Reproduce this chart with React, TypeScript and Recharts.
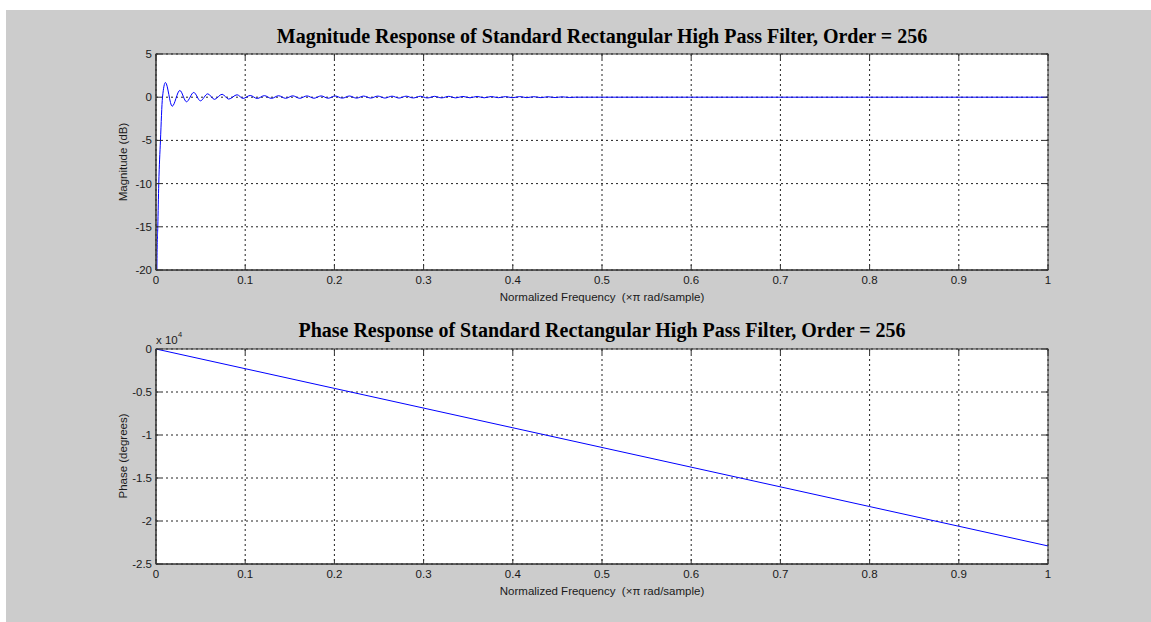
import React from "react";
import { LineChart, Line, XAxis, YAxis, CartesianGrid } from "recharts";

// tick values
const freqTicks = [0, 0.1, 0.2, 0.3, 0.4, 0.5, 0.6, 0.7, 0.8, 0.9, 1];
const magTicks = [-20, -15, -10, -5, 0, 5];
const phaseTicks = [-2.5, -2, -1.5, -1, -0.5, 0];

// magnitude response (dB)
const magFreq = [
  0, 0.0012, 0.002, 0.0031, 0.005, 0.0073, 0.0106, 0.0181, 0.0267, 0.0342,
  0.0423, 0.0498, 0.058, 0.0655, 0.0741, 0.0815, 0.0909, 0.0976,
  0.1056, 0.1135, 0.1215, 0.1294, 0.1374, 0.1453, 0.1533, 0.1612, 0.1692, 0.1771,
  0.1851, 0.193, 0.201, 0.2089, 0.2169, 0.2248, 0.2328, 0.2407, 0.2487, 0.2566,
  0.2646, 0.2725, 0.2805, 0.2884, 0.2964, 0.3043, 0.3123, 0.3202, 0.3282, 0.3361,
  0.3441, 0.352, 0.36, 0.3679, 0.3759, 0.3838, 0.3918, 0.3997, 0.4077, 0.4156,
  0.4236, 0.4315, 0.4395, 0.4474, 0.4554, 0.4633, 0.47, 1,
];
const magDb = [
  -45, -18, -15, -10, -5, 0, 1.7, -1.05, 0.78, -0.53,
  0.55, -0.42, 0.39, -0.25, 0.34, -0.22, 0.28, -0.14,
  0.2, -0.15, 0.18, -0.14, 0.17, -0.13, 0.16, -0.13, 0.15, -0.12,
  0.15, -0.12, 0.14, -0.11, 0.14, -0.11, 0.13, -0.1, 0.13, -0.1,
  0.12, -0.1, 0.12, -0.09, 0.11, -0.09, 0.1, -0.08, 0.1, -0.08,
  0.09, -0.07, 0.09, -0.07, 0.08, -0.06, 0.07, -0.06, 0.07, -0.05,
  0.06, -0.05, 0.05, -0.04, 0.04, -0.03, 0, 0,
];

// phase response (degrees x 10^4)
const phaseFreq = [0, 0.2, 0.4, 0.6, 0.8, 1];
const phaseDeg = [0, -0.458, -0.916, -1.374, -1.832, -2.29];

const magData = magFreq.map((f, i) => ({ f, v: magDb[i] }));
const phaseData = phaseFreq.map((f, i) => ({ f, v: phaseDeg[i] }));

const AXIS = "#333";
const TEXT = "#1a1a1a";
const SANS = "'Liberation Sans', Arial, sans-serif";
const SERIF = "'Liberation Serif', 'Times New Roman', serif";
const FS = 11.5;
const PLOT_W = 892;

// MATLAB-style inward ticks on bottom + top edge
function BottomTick({ x, y, payload, plotH }: any) {
  return (
    <g>
      <line x1={x} x2={x} y1={y} y2={y - 5} stroke={AXIS} />
      <line x1={x} x2={x} y1={y - plotH} y2={y - plotH + 5} stroke={AXIS} />
      <text x={x} y={y + 14} textAnchor="middle" fontSize={FS} fontFamily={SANS} fill={TEXT}>
        {String(payload.value)}
      </text>
    </g>
  );
}

// inward ticks on left + right edge
function LeftTick({ x, y, payload }: any) {
  return (
    <g>
      <line x1={x} x2={x + 5} y1={y} y2={y} stroke={AXIS} />
      <line x1={x + PLOT_W} x2={x + PLOT_W - 5} y1={y} y2={y} stroke={AXIS} />
      <text x={x - 4} y={y + 4} textAnchor="end" fontSize={FS} fontFamily={SANS} fill={TEXT}>
        {String(payload.value)}
      </text>
    </g>
  );
}

function Panel({ data, yTicks, yDomain, top, bottom }: any) {
  const plotH = 300 - top - bottom - 30;
  return (
    <LineChart
      width={1151}
      height={300}
      data={data}
      margin={{ top, right: 103, bottom, left: 106 }}
    >
      <CartesianGrid stroke="#222" strokeDasharray="2 3" fill="#fff" />
      <XAxis
        dataKey="f"
        type="number"
        domain={[0, 1]}
        ticks={freqTicks}
        interval={0}
        tickSize={0}
        tickMargin={0}
        tick={<BottomTick plotH={plotH} />}
        stroke={AXIS}
        height={30}
        allowDataOverflow
      />
      <YAxis
        type="number"
        domain={yDomain}
        ticks={yTicks}
        interval={0}
        tickSize={0}
        tickMargin={0}
        tick={<LeftTick />}
        stroke={AXIS}
        width={50}
        allowDataOverflow
      />
      <Line
        type="monotone"
        dataKey="v"
        stroke="#0000ff"
        strokeWidth={1}
        dot={false}
        isAnimationActive={false}
      />
    </LineChart>
  );
}

export default function App() {
  return (
    <div style={{ position: "absolute", left: 0, top: 0, width: 1151, height: 622, background: "#fff" }}>
      <div style={{ position: "absolute", left: 6, top: 10, width: 1145, height: 612, background: "#cccccc" }} />
      <div style={{ position: "absolute", left: 0, top: 0 }}>
        <Panel data={magData} yTicks={magTicks} yDomain={[-20, 5]} top={54} bottom={0} />
      </div>
      <div style={{ position: "absolute", left: 0, top: 300 }}>
        <Panel data={phaseData} yTicks={phaseTicks} yDomain={[-2.5, 0]} top={49} bottom={6} />
      </div>
      <svg
        width={1151}
        height={622}
        style={{ position: "absolute", left: 0, top: 0, pointerEvents: "none" }}
      >
        {/* plot box edges (top and right) */}
        <rect x={156} y={54} width={PLOT_W} height={216} fill="none" stroke={AXIS} />
        <rect x={156} y={349} width={PLOT_W} height={215} fill="none" stroke={AXIS} />
        <text x={602} y={43} textAnchor="middle" fontFamily={SERIF} fontWeight="bold" fontSize={20} fill="#000">
          Magnitude Response of Standard Rectangular High Pass Filter, Order = 256
        </text>
        <text x={602} y={337} textAnchor="middle" fontFamily={SERIF} fontWeight="bold" fontSize={20} fill="#000">
          Phase Response of Standard Rectangular High Pass Filter, Order = 256
        </text>
        <text x={602} y={301} textAnchor="middle" fontFamily={SANS} fontSize={FS} fill={TEXT} style={{ whiteSpace: "pre" }}>
          Normalized Frequency  (×π rad/sample)
        </text>
        <text x={602} y={595} textAnchor="middle" fontFamily={SANS} fontSize={FS} fill={TEXT} style={{ whiteSpace: "pre" }}>
          Normalized Frequency  (×π rad/sample)
        </text>
        <text x={127} y={162} transform="rotate(-90 127 162)" textAnchor="middle" fontFamily={SANS} fontSize={FS} fill={TEXT}>
          Magnitude (dB)
        </text>
        <text x={127} y={456} transform="rotate(-90 127 456)" textAnchor="middle" fontFamily={SANS} fontSize={FS} fill={TEXT}>
          Phase (degrees)
        </text>
        <text x={156} y={344} fontFamily={SANS} fontSize={FS} fill={TEXT}>
          x 10
        </text>
        <text x={178} y={337} fontFamily={SANS} fontSize={7.5} fill={TEXT}>
          4
        </text>
      </svg>
    </div>
  );
}
